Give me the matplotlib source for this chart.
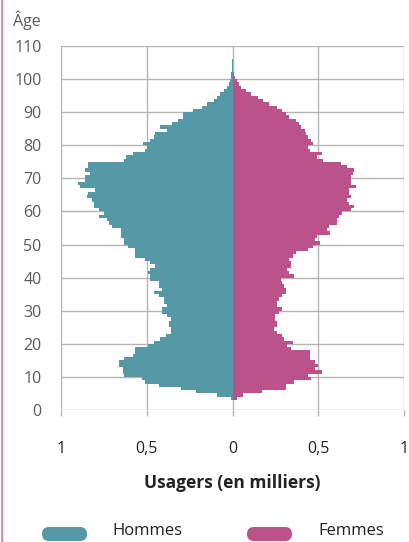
import matplotlib
matplotlib.use("Agg")
import matplotlib.pyplot as plt
from matplotlib.patches import FancyBboxPatch
from matplotlib.lines import Line2D
import numpy as np

plt.rcParams['font.family'] = ['Open Sans', 'DejaVu Sans']

# ---- data (thousands of users by single year of age) ----
ages = list(range(3, 106))
hommes = [0.01, 0.09, 0.21, 0.30, 0.43, 0.51, 0.53, 0.63, 0.64, 0.64,   # 3-12
          0.66, 0.66, 0.63, 0.58, 0.57, 0.57, 0.49, 0.46, 0.42, 0.39,   # 13-22
          0.36, 0.36, 0.37, 0.37, 0.36, 0.38, 0.41, 0.41, 0.38, 0.40,   # 23-32
          0.40, 0.43, 0.46, 0.41, 0.43, 0.43, 0.48, 0.48, 0.49, 0.48,   # 33-42
          0.45, 0.48, 0.51, 0.57, 0.57, 0.57, 0.61, 0.63, 0.63, 0.65,   # 43-52
          0.65, 0.65, 0.70, 0.72, 0.73, 0.78, 0.75, 0.78, 0.81, 0.81,   # 53-62
          0.82, 0.85, 0.84, 0.80, 0.89, 0.90, 0.86, 0.86, 0.83, 0.86,   # 63-72
          0.84, 0.84, 0.63, 0.62, 0.58, 0.51, 0.50, 0.52, 0.48, 0.46,   # 73-82
          0.45, 0.38, 0.42, 0.35, 0.32, 0.29, 0.29, 0.23, 0.18, 0.15,   # 83-92
          0.11, 0.09, 0.07, 0.05, 0.03, 0.02, 0.015, 0.01, 0.008, 0.005,  # 93-102
          0.004, 0.003, 0.002]                                          # 103-105
femmes = [0.025, 0.06, 0.17, 0.31, 0.31, 0.36, 0.46, 0.44, 0.52, 0.48,  # 3-12
          0.50, 0.48, 0.45, 0.45, 0.45, 0.34, 0.32, 0.35, 0.30, 0.29,   # 13-22
          0.26, 0.24, 0.26, 0.26, 0.25, 0.25, 0.27, 0.29, 0.26, 0.26,   # 23-32
          0.27, 0.29, 0.31, 0.31, 0.30, 0.29, 0.28, 0.36, 0.33, 0.32,   # 33-42
          0.34, 0.34, 0.33, 0.35, 0.37, 0.44, 0.47, 0.51, 0.48, 0.49,   # 43-52
          0.57, 0.55, 0.56, 0.61, 0.61, 0.62, 0.64, 0.69, 0.71, 0.68,   # 53-62
          0.67, 0.69, 0.68, 0.68, 0.72, 0.69, 0.69, 0.69, 0.70, 0.71,   # 63-72
          0.67, 0.63, 0.53, 0.49, 0.52, 0.45, 0.44, 0.47, 0.46, 0.44,   # 73-82
          0.43, 0.42, 0.40, 0.39, 0.37, 0.33, 0.31, 0.29, 0.26, 0.21,   # 83-92
          0.18, 0.15, 0.11, 0.08, 0.05, 0.04, 0.025, 0.015, 0.01, 0.005,  # 93-102
          0.0, 0.0, 0.0]                                                # 103-105
xticks = [-1, -0.5, 0, 0.5, 1]
xticklabels = ['1', '0,5', '0', '0,5', '1']
yticks = list(range(0, 111, 10))
series_names = ['Hommes', 'Femmes']

teal = '#5599a6'
pink = '#bb5289'
grid_c = '#b4b4b4'
label_grey = '#5a5a5a'

W, H = 409, 542
fig = plt.figure(figsize=(W / 100, H / 100), dpi=100)
ax = fig.add_axes([61 / W, 132 / H, 343 / W, 364 / H])

ax.barh(ages, [-v for v in hommes], height=1.0, align='edge', color=teal, linewidth=0, zorder=2)
ax.barh(ages, femmes, height=1.0, align='edge', color=pink, linewidth=0, zorder=2)

ax.set_xlim(-1, 1)
ax.set_ylim(0, 110)
for s in ax.spines.values():
    s.set_visible(False)
ax.set_xticks(xticks)
ax.set_xticklabels(xticklabels, fontsize=11.5, color='#222222')
ax.set_yticks(yticks)
ax.set_yticklabels([str(t) for t in yticks], fontsize=11.5, color=label_grey)
ax.tick_params(axis='x', length=4, color=grid_c, width=1, pad=18)
ax.tick_params(axis='y', length=0, pad=14)
for t in xticks:
    ax.axvline(t, color=grid_c, lw=1, zorder=1)
for t in yticks:
    ax.axhline(t, color=grid_c, lw=1, zorder=1)

fig.text(13 / W, 1 - 20 / H, 'Âge', fontsize=11.5, color=label_grey, ha='left', va='center')
fig.text(232 / W, 1 - 483 / H, 'Usagers (en milliers)', fontsize=12.5, fontweight='bold',
         color='#222222', ha='center', va='center')

# legend
for (x0, col, name, tx) in [(42, teal, series_names[0], 112), (247, pink, series_names[1], 318)]:
    p = FancyBboxPatch((x0 / W, (H - 541) / H), 45 / W, 14 / H,
                       boxstyle='round,pad=0,rounding_size=0.017', transform=fig.transFigure,
                       facecolor=col, edgecolor='none', mutation_aspect=W / H)
    fig.patches.append(p)
    fig.text(tx / W, 1 - 535 / H, name, fontsize=12, color='#222222', ha='left', va='baseline')

fig.add_artist(Line2D([1.5 / W, 1.5 / W], [0, 1], transform=fig.transFigure, color='#e07a90', lw=1.2))

fig.savefig('out.png', dpi=100)
